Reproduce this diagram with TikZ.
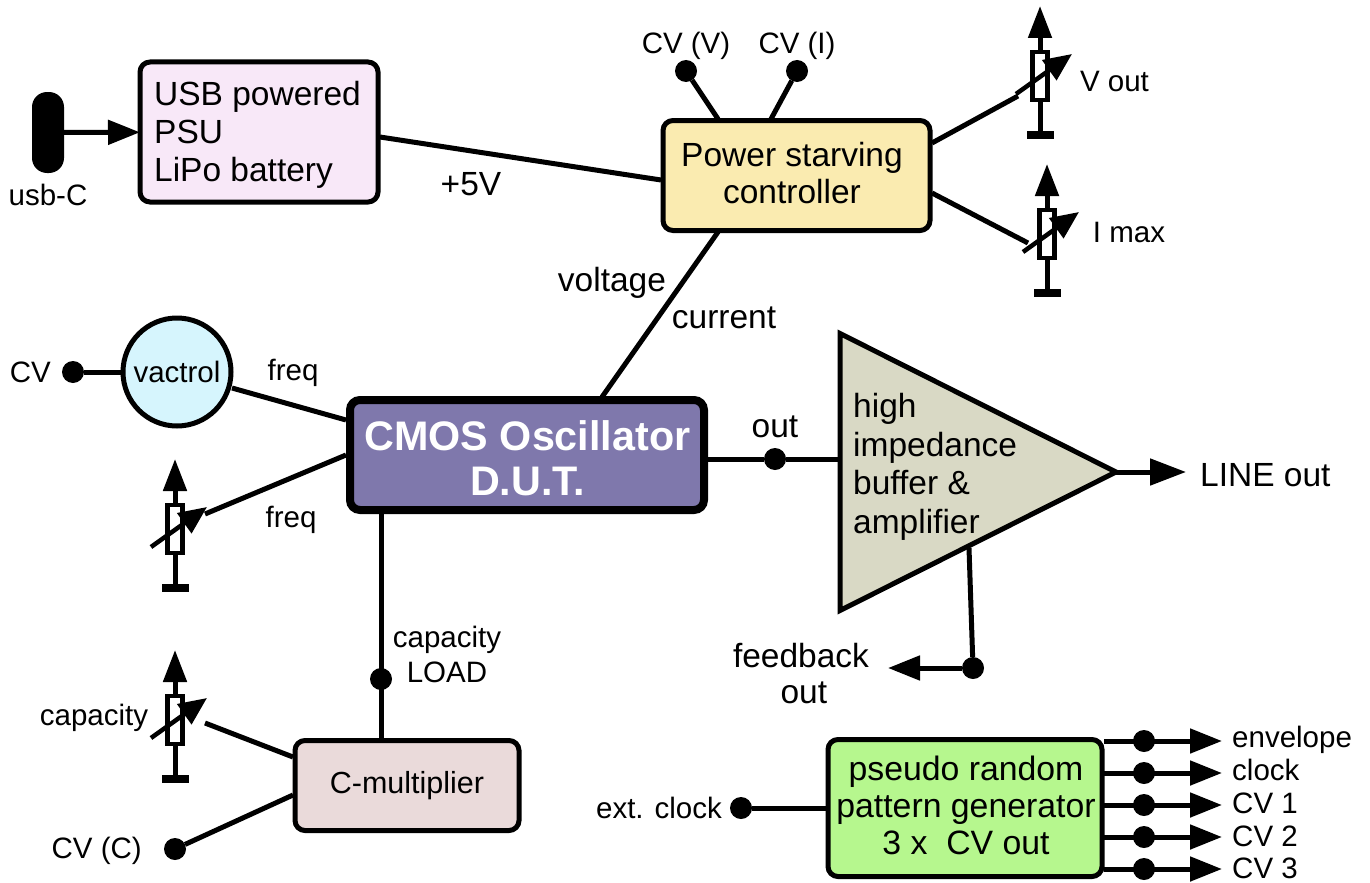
\documentclass[tikz,border=0pt]{standalone}
\usepackage{fontspec}
\setmainfont{Liberation Sans}
\usetikzlibrary{arrows.meta,positioning,shapes.geometric}
\tikzset{
  block/.style={draw,line width=5pt,rounded corners=10pt,outer sep=0pt,inner sep=0pt,align=center},
  wire/.style={line width=5pt},
  feed/.style={wire,-{Triangle[length=32pt,width=24pt]}},
  dotnode/.style={circle,fill=black,minimum size=22pt,inner sep=0pt,outer sep=0pt},
  biglabel/.style={inner sep=0pt,align=center,font=\bigfont},
  smalllabel/.style={inner sep=0pt,align=center,font=\smallfont},
  potbody/.style={draw,fill=white,line width=4.5pt,minimum width=15pt,minimum height=48pt,inner sep=0pt,outer sep=2pt},
  potfoot/.style={fill=black,minimum width=27pt,minimum height=8pt,inner sep=0pt,outer sep=0pt}
}
\newcommand{\bigfont}{\fontsize{33.5}{38}\selectfont}
\newcommand{\smallfont}{\fontsize{29.5}{35}\selectfont}
\definecolor{usbfill}{HTML}{F8E8F8}
\definecolor{ctrlfill}{HTML}{FAEBB0}
\definecolor{dutfill}{HTML}{7F78AC}
\definecolor{multfill}{HTML}{EADADA}
\definecolor{prngfill}{HTML}{B6F78E}
\definecolor{vacfill}{HTML}{D6F5FD}
\definecolor{ampfill}{HTML}{D9D9C5}
% variable resistor: name, centre x, centre y
\newcommand{\potmeter}[3]{
  \node[potfoot] (#1foot) at (#2,#3+59) {};
  \draw[wire] (#2,#3) -- (#1foot.center);
  \draw[wire,-{Triangle[length=32pt,width=23pt]}] (#2,#3) -- (#2,#3-70);
  \node[potbody] (#1) at (#2,#3) {};
  \coordinate (#1wiper) at (#2-24,#3+18);
  \draw[line width=4.5pt,-{Triangle[length=28pt,width=24pt]}] (#1wiper) -- (#2+32,#3-22);
}

\begin{document}
\begin{tikzpicture}[x=1pt,y=-1pt]
  \useasboundingbox (0,0) rectangle (1370,883);
  % blocks
  \node[block,fill=usbfill,minimum width=238pt,minimum height=140pt] (usb) at (259,132) {};
  \node[biglabel,align=left] (usbtext) at (257.5,135) {USB powered\\PSU\\LiPo battery};
  \node[block,fill=ctrlfill,minimum width=267pt,minimum height=110pt] (starve) at (796.5,175.5) {};
  \node[biglabel,font=\fontsize{33.5}{37}\selectfont] (starvetext) at (792,173) {Power starving\\controller};
  \node[block,fill=dutfill,line width=8pt,minimum width=354pt,minimum height=110pt] (dut) at (527,455) {};
  \node[biglabel,text=white,font=\fontsize{41.3}{45}\selectfont\bfseries] (duttext) at (527.5,458.5) {CMOS Oscillator\\D.U.T.};
  \node[block,fill=multfill,minimum width=224pt,minimum height=90pt,font=\fontsize{30.5}{35}\selectfont] (mult) at (407,785.5) {C-multiplier};
  \node[block,fill=prngfill,minimum width=274pt,minimum height=137pt] (prng) at (965,808) {};
  \node[biglabel,font=\fontsize{33.8}{37}\selectfont] (prngtext) at (966,805) {pseudo random\\pattern generator\\3 x\ \ CV out};
  \node[circle,draw,fill=vacfill,line width=5pt,minimum size=108pt,inner sep=0pt,outer sep=0pt,font=\smallfont] (vactrol) at (177,372) {vactrol};
  \node[isosceles triangle,isosceles triangle apex angle=90,isosceles triangle stretches,shape border rotate=0,draw,fill=ampfill,line width=5pt,minimum width=277pt,minimum height=276pt,inner sep=0pt,outer sep=0pt,anchor=apex] (amp) at (1116,472) {};
  \node[biglabel,align=left,anchor=north west,font=\fontsize{33.5}{38.6}\selectfont] (amptext) at (853,393) {high\\impedance\\buffer \&\\amplifier};

  % usb connector and supply
  \node[fill=black,rounded corners=15pt,minimum width=32pt,minimum height=81pt,inner sep=0pt,outer sep=0pt] (usbc) at (48,132.5) {};
  \node[smalllabel] (usbclabel) at (48,195) {usb-C};
  \draw[feed] (usbc) -- (usb);
  \coordinate (usbout) at (380,137);
  \coordinate (starvein) at (661,180);
  \draw[wire] (usbout) -- (starvein);
  \node[biglabel] (plusfive) at (471,184) {+5V};

  % control voltages on top
  \node[dotnode] (cvv) at (686,71) {};
  \node[dotnode] (cvi) at (797,71) {};
  \node[smalllabel,above=0pt of cvv] (cvvlabel) {CV (V)};
  \node[smalllabel,above=0pt of cvi] (cvilabel) {CV (I)};
  \coordinate (starvev) at (718,119);
  \coordinate (starvei) at (771,119);
  \draw[wire] (cvv) -- (starvev);
  \draw[wire] (cvi) -- (starvei);

  % output pots
  \potmeter{potv}{1040}{76}
  \potmeter{poti}{1047}{234}
  \node[smalllabel] (potvlabel) at (1114.5,81) {V out};
  \node[smalllabel] (potilabel) at (1129,232) {I max};
  \coordinate (starveo) at (932,143);
  \coordinate (starvem) at (932,193);
  \coordinate (potvend) at (1018,96);
  \coordinate (potiend) at (1028,243);
  \draw[wire] (starveo) -- (potvend);
  \draw[wire] (starvem) -- (potiend);

  % supply to oscillator
  \coordinate (starvedown) at (718,232);
  \coordinate (dutup) at (602,397);
  \draw[wire] (starvedown) -- (dutup);
  \node[biglabel] (voltlabel) at (612,283) {voltage};
  \node[biglabel] (currlabel) at (724,318) {current};

  % frequency inputs
  \node[dotnode] (cvdot) at (73,372) {};
  \node[smalllabel,left=11pt of cvdot] (cvlabel) {CV};
  \draw[wire] (cvdot) -- (vactrol);
  \coordinate (vacout) at (232,388);
  \coordinate (dutfreqa) at (346,420);
  \draw[wire] (vacout) -- (dutfreqa);
  \node[smalllabel] (freqa) at (293,373) {freq};
  \potmeter{potf}{175}{529}
  \coordinate (dutfreqb) at (346,455);
  \coordinate (potfend) at (205,514);
  \draw[wire] (dutfreqb) -- (potfend);
  \node[smalllabel] (freqb) at (291,520) {freq};

  % oscillator output
  \node[dotnode] (outdot) at (775,459) {};
  \node[biglabel,above=10pt of outdot] (outlabel) {out};
  \coordinate (dutout) at (708,459);
  \coordinate (ampin) at (840,459);
  \draw[wire] (dutout) -- (outdot) -- (ampin);
  \coordinate (lineend) at (1186,472);
  \draw[wire,-{Triangle[length=36pt,width=26pt]}] (amp.apex) -- (lineend);
  \node[biglabel,right=14pt of lineend,yshift=-3pt] (linelabel) {LINE out};

  % feedback
  \coordinate (ampfoot) at (969,548);
  \node[dotnode] (fbdot) at (973,668) {};
  \coordinate (fbend) at (888,668);
  \draw[wire] (ampfoot) -- (fbdot);
  \draw[feed] (fbdot) -- (fbend);
  \node[biglabel,font=\fontsize{33.5}{36}\selectfont] (fblabel) at (801,674) {feedback\\\,out};

  % capacity load
  \coordinate (dutdown) at (381,513);
  \coordinate (multup) at (381,739);
  \node[dotnode] (loaddot) at (381,679) {};
  \draw[wire] (dutdown) -- (multup);
  \node[smalllabel] (loadlabel) at (447,654) {capacity\\LOAD};
  \potmeter{potc}{175}{720}
  \node[smalllabel] (potclabel) at (94,718) {capacity};
  \coordinate (multa) at (293,757);
  \coordinate (potcend) at (205,723);
  \draw[wire] (multa) -- (potcend);
  \node[dotnode] (cvcdot) at (175,849) {};
  \node[smalllabel,left=22pt of cvcdot,yshift=-2pt] (cvclabel) {CV (C)};
  \coordinate (multb) at (293,795);
  \draw[wire] (cvcdot) -- (multb);

  % pattern generator
  \node[dotnode] (extdot) at (741,808) {};
  \node[smalllabel,left=8pt of extdot] (extlabel) {ext. clock};
  \draw[wire] (extdot) -- (prng);
  \foreach \name/\ypos/\ylabel/\txt in {env/741/745/envelope,clk/773/778/clock,cva/805/811/CV 1,cvb/837/844/CV 2,cvc/869/876/CV 3}{
    \coordinate (\name start) at (1104,\ypos);
    \node[dotnode] (\name dot) at (1144,\ypos) {};
    \coordinate (\name end) at (1222,\ypos);
    \draw[feed] (\name start) -- (\name end);
    \node[smalllabel,anchor=mid west] (\name label) at (1232,\ylabel) {\txt};
  }
\end{tikzpicture}
\end{document}
